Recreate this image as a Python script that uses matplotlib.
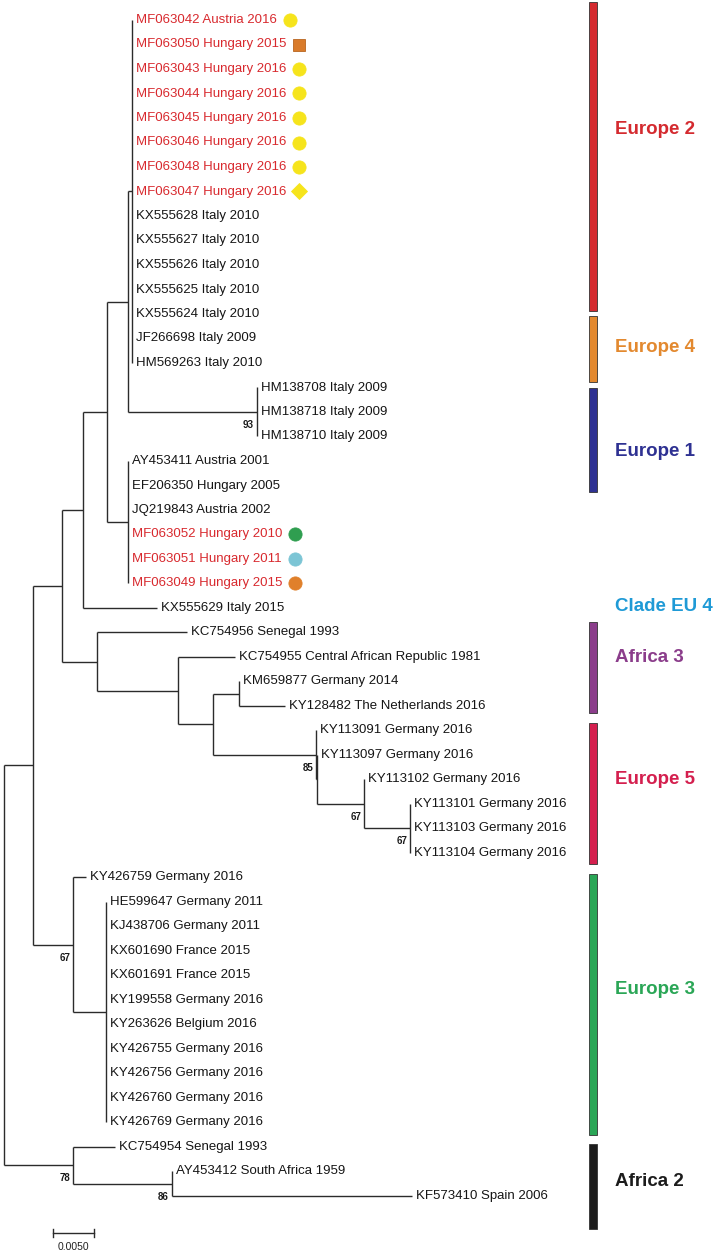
import matplotlib
matplotlib.use('Agg')
import matplotlib.pyplot as plt
from matplotlib.patches import Rectangle

plt.rcParams['font.family'] = ['Liberation Sans', 'DejaVu Sans']

# ---------------- data ----------------
# Tree topology with branch lengths (substitutions/site) and bootstrap values
NEWICK = (
    "((((((((MF063042:0,MF063050:0,MF063043:0,MF063044:0,MF063045:0,MF063046:0,"
    "MF063048:0,MF063047:0,KX555628:0,KX555627:0,KX555626:0,KX555625:0,KX555624:0,"
    "JF266698:0,HM569263:0):0.00049,(HM138708:0,HM138718:0,HM138710:0)93:0.01573):0.00256,"
    "(AY453411:0,EF206350:0,JQ219843:0,MF063052:0,MF063051:0,MF063049:0):0.00256):0.00293,"
    "KX555629:0.00902):0.00256,"
    "(KC754956:0.01098,(KC754955:0.00695,((KM659877:0,KY128482:0.00561):0.00317,"
    "(KY113091:0,(KY113097:0,(KY113102:0,(KY113101:0,KY113103:0,KY113104:0)67:0.00561)67:0.00573):0.00012)85:0.01256"
    "):0.00427):0.00988):0.00427):0.00354,"
    "(KY426759:0.00159,(HE599647:0,KJ438706:0,KX601690:0,KX601691:0,KY199558:0,KY263626:0,"
    "KY426755:0,KY426756:0,KY426760:0,KY426769:0):0.00402)67:0.00488):0.00354,"
    "(KC754954:0.00512,(AY453412:0,KF573410:0.02927)86:0.01207)78:0.00841);"
)

tip_ids = ["MF063042", "MF063050", "MF063043", "MF063044", "MF063045", "MF063046",
           "MF063048", "MF063047", "KX555628", "KX555627", "KX555626", "KX555625",
           "KX555624", "JF266698", "HM569263", "HM138708", "HM138718", "HM138710",
           "AY453411", "EF206350", "JQ219843", "MF063052", "MF063051", "MF063049",
           "KX555629", "KC754956", "KC754955", "KM659877", "KY128482", "KY113091",
           "KY113097", "KY113102", "KY113101", "KY113103", "KY113104", "KY426759",
           "HE599647", "KJ438706", "KX601690", "KX601691", "KY199558", "KY263626",
           "KY426755", "KY426756", "KY426760", "KY426769", "KC754954", "AY453412",
           "KF573410"]
tip_countries = ["Austria", "Hungary", "Hungary", "Hungary", "Hungary", "Hungary",
                 "Hungary", "Hungary", "Italy", "Italy", "Italy", "Italy",
                 "Italy", "Italy", "Italy", "Italy", "Italy", "Italy",
                 "Austria", "Hungary", "Austria", "Hungary", "Hungary", "Hungary",
                 "Italy", "Senegal", "Central African Republic", "Germany", "The Netherlands", "Germany",
                 "Germany", "Germany", "Germany", "Germany", "Germany", "Germany",
                 "Germany", "Germany", "France", "France", "Germany", "Belgium",
                 "Germany", "Germany", "Germany", "Germany", "Senegal", "South Africa",
                 "Spain"]
tip_years = [2016, 2015, 2016, 2016, 2016, 2016, 2016, 2016, 2010, 2010, 2010, 2010,
             2010, 2009, 2010, 2009, 2009, 2009, 2001, 2005, 2002, 2010, 2011, 2015,
             2015, 1993, 1981, 2014, 2016, 2016, 2016, 2016, 2016, 2016, 2016, 2016,
             2011, 2011, 2015, 2015, 2016, 2016, 2016, 2016, 2016, 2016, 1993, 1959,
             2006]
highlight_ids = ["MF063042", "MF063050", "MF063043", "MF063044", "MF063045", "MF063046",
                 "MF063048", "MF063047", "MF063052", "MF063051", "MF063049"]

marker_ids = ["MF063042", "MF063050", "MF063043", "MF063044", "MF063045", "MF063046",
              "MF063048", "MF063047", "MF063052", "MF063051", "MF063049"]
marker_shapes = ["o", "s", "o", "o", "o", "o", "o", "D", "o", "o", "o"]
marker_colors = ["#f6e41c", "#d97b2b", "#f6e41c", "#f6e41c", "#f6e41c", "#f6e41c",
                 "#f6e41c", "#f6e41c", "#2f9e50", "#7cc5d5", "#e0802b"]

clade_names = ["Europe 2", "Europe 4", "Europe 1", "Clade EU 4", "Africa 3",
               "Europe 5", "Europe 3", "Africa 2"]
clade_colors = ["#d42a2f", "#e3892f", "#2e3192", "#1f9ad6", "#8b3d8b",
                "#d41f4e", "#2aa656", "#1c1c1c"]

scale_value = 0.005

# ---------------- layout (pixels) ----------------
W, H = 714, 1251
PX_PER_UNIT = 41 / 0.005     # scale bar: 0.005 = 41 px
ROOT_PX = 4
TIP0_PX, TIP_STEP = 20, 24.5
# clade bars: (top, bottom) in px, None = no bar; label y centres
bar_spans = [(2, 311), (316, 382), (388, 492), None, (622, 713),
             (723, 864), (874, 1135), (1144, 1229)]
label_y = [130, 348, 452, 607, 658, 780, 990, 1182]
BAR_X0, BAR_W, LABEL_X = 589, 8, 615


def X(px):
    return (px - ROOT_PX) / PX_PER_UNIT


def Y(py):
    return (py - TIP0_PX) / TIP_STEP


def parse_newick(s):
    pos = 0

    def node():
        nonlocal pos
        n = {'children': [], 'name': '', 'length': 0.0}
        if s[pos] == '(':
            pos += 1
            while True:
                n['children'].append(node())
                if s[pos] == ',':
                    pos += 1
                    continue
                pos += 1  # ')'
                break
        st = pos
        while pos < len(s) and s[pos] not in ':,();':
            pos += 1
        n['name'] = s[st:pos]
        if pos < len(s) and s[pos] == ':':
            pos += 1
            st = pos
            while pos < len(s) and s[pos] not in ',();':
                pos += 1
            n['length'] = float(s[st:pos])
        return n
    return node()


tree = parse_newick(NEWICK)
counter = [0]


def layout(n, depth):
    n['x'] = depth
    if not n['children']:
        n['y'] = counter[0]
        counter[0] += 1
    else:
        for c in n['children']:
            layout(c, depth + c['length'])
        n['y'] = (n['children'][0]['y'] + n['children'][-1]['y']) / 2


layout(tree, 0.0)

fig = plt.figure(figsize=(W / 100, H / 100), dpi=100)
ax = fig.add_axes([0, 0, 1, 1])
ax.set_xlim(X(0), X(W))
ax.set_ylim(Y(H), Y(0))
ax.axis('off')

LINE_C = '#2b2b2b'
LW = 1.0
info = {tid: (c, y) for tid, c, y in zip(tip_ids, tip_countries, tip_years)}
text_objs = {}


def draw(n):
    if n['children']:
        ys = [c['y'] for c in n['children']]
        ax.plot([n['x'], n['x']], [min(ys), max(ys)], color=LINE_C, lw=LW,
                solid_capstyle='butt')
        for c in n['children']:
            if c['x'] > n['x']:
                ax.plot([n['x'], c['x']], [c['y'], c['y']], color=LINE_C, lw=LW,
                        solid_capstyle='butt')
            draw(c)
        if n['name']:
            ax.text(n['x'] - 3 / PX_PER_UNIT, n['y'] + 13 / TIP_STEP, n['name'],
                    ha='right', va='center', fontsize=7, fontweight='bold',
                    color='#1a1a1a')
    else:
        country, year = info[n['name']]
        col = '#d8292e' if n['name'] in highlight_ids else '#151515'
        t = ax.text(n['x'] + 4 / PX_PER_UNIT, n['y'], f"{n['name']} {country} {year}",
                    ha='left', va='center', fontsize=9.5, color=col)
        text_objs[n['name']] = t


draw(tree)

# markers after labels
fig.canvas.draw()
renderer = fig.canvas.get_renderer()
inv = ax.transData.inverted()
sizes = {'o': 9.5, 's': 8.5, 'D': 8.0}
for mid, shp, mc in zip(marker_ids, marker_shapes, marker_colors):
    bb = text_objs[mid].get_window_extent(renderer)
    yc = (bb.y0 + bb.y1) / 2
    mx, _ = inv.transform((bb.x1 + 13, yc))
    ax.plot(mx, tip_ids.index(mid), marker=shp, ms=sizes[shp], color=mc,
            mec=mc if shp != 's' else '#b8651f', mew=0.6, linestyle='none')

# clade bars and labels
for name, col, span, ly in zip(clade_names, clade_colors, bar_spans, label_y):
    if span is not None:
        y0, y1 = span
        ax.add_patch(Rectangle((X(BAR_X0), Y(y0)), X(BAR_X0 + BAR_W) - X(BAR_X0),
                               Y(y1) - Y(y0), facecolor=col, edgecolor='#333333',
                               lw=0.6))
    ax.text(X(LABEL_X), Y(ly), name, ha='left', va='center', fontsize=13.5,
            fontweight='bold', color=col)

# scale bar
sb_x0 = X(53)
sb_y = Y(1233)
ax.plot([sb_x0, sb_x0 + scale_value], [sb_y, sb_y], color=LINE_C, lw=1.0)
for xx in (sb_x0, sb_x0 + scale_value):
    ax.plot([xx, xx], [Y(1229), Y(1237)], color=LINE_C, lw=1.0)
ax.text(sb_x0 + scale_value / 2, Y(1247), f"{scale_value:.4f}", ha='center',
        va='center', fontsize=7.5, color='#222222')

fig.savefig('out.png', dpi=100)
